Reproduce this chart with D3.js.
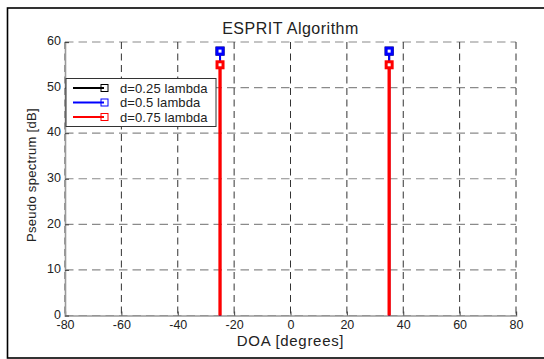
<!DOCTYPE html>
<html><head><meta charset="utf-8">
<script src="https://cdn.jsdelivr.net/npm/d3@7"></script>
<style>
body{margin:0;background:#fff;}
svg{display:block;font-family:"Liberation Sans",Arial,sans-serif;}
</style></head>
<body><svg id="c" width="544" height="359"></svg>
<script>
const seriesNames = ["d=0.25 lambda","d=0.5 lambda","d=0.75 lambda"];
const seriesColors = ["#000000","#0000ff","#ff0000"];
const doaAngles = [-25, 35];
const peakValues = [[58, 58],[58, 58],[55, 55]];
const xTicks = [-80,-60,-40,-20,0,20,40,60,80];
const yTicks = [0,10,20,30,40,50,60];

const svg = d3.select("#c");
const L=65,R=516,T=42,B=315.5;
const x = d3.scaleLinear().domain([-80,80]).range([L,R]);
const y = d3.scaleLinear().domain([0,60]).range([B,T]);

// outer frame
svg.append("rect").attr("x",7.5).attr("y",8).attr("width",560).attr("height",350)
  .attr("fill","none").attr("stroke","#000").attr("stroke-width",1.6);

// grid
const g = svg.append("g");
g.selectAll(".hg").data(yTicks).join("line")
  .attr("x1",L).attr("x2",R).attr("y1",d=>y(d)).attr("y2",d=>y(d))
  .attr("stroke","#8a8a8a").attr("stroke-width",1.1).attr("stroke-dasharray","8.5,5");
g.selectAll(".vg").data(xTicks).join("line")
  .attr("x1",d=>x(d)).attr("x2",d=>x(d)).attr("y1",T).attr("y2",B)
  .attr("stroke","#333").attr("stroke-width",1).attr("stroke-dasharray","7,4.5");

// axes
const xa = svg.append("g").attr("transform",`translate(0,${B})`)
  .call(d3.axisBottom(x).tickValues(xTicks).tickSize(-4).tickFormat(d=>String(d)));
const ya = svg.append("g").attr("transform",`translate(${L},0)`)
  .call(d3.axisLeft(y).tickValues(yTicks).tickSize(-4).tickPadding(4).tickFormat(d=>String(d)));
[xa,ya].forEach(a=>{
  a.select(".domain").attr("stroke","#999").attr("stroke-width",1.6);
  a.selectAll(".tick line").attr("stroke","#444");
  a.selectAll("text").attr("font-size",12.5).attr("fill","#222").attr("font-family","Liberation Sans, Arial, sans-serif");
});
xa.selectAll("text").attr("y",13).attr("dy","0");
ya.selectAll("text").attr("dy","0.22em");

// stems
seriesNames.forEach((n,i)=>{
  const sg = svg.append("g");
  const lw = i===2?3.3:2;
  doaAngles.forEach((a,j)=>{
    sg.append("line").attr("x1",x(a)).attr("x2",x(a)).attr("y1",y(0)).attr("y2",y(peakValues[i][j]))
      .attr("stroke",seriesColors[i]).attr("stroke-width",lw);
    sg.append("rect").attr("x",x(a)-3).attr("y",y(peakValues[i][j])-3).attr("width",6).attr("height",6)
      .attr("fill","#fff").attr("stroke",seriesColors[i]).attr("stroke-width",3);
  });
});

// title & labels
svg.append("text").attr("x",(L+R)/2).attr("y",34).attr("text-anchor","middle")
  .attr("font-size",16).attr("letter-spacing",0.5).attr("fill","#222").text("ESPRIT Algorithm");
svg.append("text").attr("x",(L+R)/2).attr("y",346).attr("text-anchor","middle")
  .attr("font-size",15).attr("letter-spacing",0.7).attr("fill","#222").text("DOA [degrees]");
svg.append("text").attr("transform",`translate(35.5,175) rotate(-90)`).attr("text-anchor","middle")
  .attr("font-size",13).attr("letter-spacing",0.3).attr("fill","#222").text("Pseudo spectrum [dB]");

// legend
const lg = svg.append("g");
lg.append("rect").attr("x",66).attr("y",78.5).attr("width",150).attr("height",48)
  .attr("fill","#fff").attr("stroke","#333").attr("stroke-width",1);
seriesNames.forEach((n,i)=>{
  const yy = 88+14.5*i;
  lg.append("line").attr("x1",73).attr("x2",104).attr("y1",yy).attr("y2",yy)
    .attr("stroke",seriesColors[i]).attr("stroke-width",2);
  lg.append("rect").attr("x",101).attr("y",yy-3.5).attr("width",7).attr("height",7)
    .attr("fill","none").attr("stroke",seriesColors[i]).attr("stroke-width",1);
  lg.append("text").attr("x",120).attr("y",yy+4.5).attr("font-size",13).attr("letter-spacing",0.1).attr("fill","#222").text(n);
});
</script></body></html>
